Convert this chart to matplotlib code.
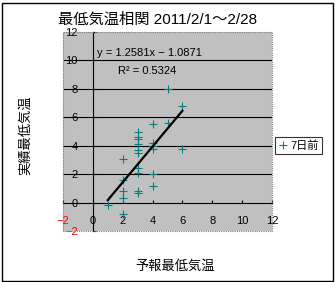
import matplotlib
matplotlib.use("Agg")
import matplotlib.pyplot as plt
from matplotlib.patches import Rectangle

plt.rcParams['font.family'] = ['Liberation Sans', 'Noto Sans CJK JP', 'DejaVu Sans']

# forecast min temp (x) vs actual min temp (y), 7 days ahead
forecast = [1,
            2, 2, 2, 2, 2,
            3, 3, 3, 3, 3, 3, 3, 3, 3, 3,
            4, 4, 4, 4, 4, 4,
            5, 5,
            6, 6]
actual = [-0.2,
          3.1, 1.6, 0.8, 0.3, -0.8,
          5.0, 4.6, 4.5, 4.1, 3.7, 3.5, 2.4, 2.1, 0.8, 0.7,
          5.5, 4.2, 4.0, 3.8, 2.0, 1.2,
          8.0, 5.6,
          6.8, 3.8]

slope = 1.2581
intercept = -1.0871
r2 = 0.5324

ticks = [-2, 0, 2, 4, 6, 8, 10, 12]
grid_y = [2, 4, 6, 8, 10]

title = "最低気温相関 2011/2/1～2/28"
xlabel = "予報最低気温"
ylabel = "実績最低気温"
series_name = "7日前"

W, H = 335, 282
fig = plt.figure(figsize=(W / 100, H / 100), dpi=100)
ax = fig.add_axes([63 / W, 1 - 231 / H, 209 / W, 199 / H])
ax.set_facecolor('#C0C0C0')
ax.set_xlim(-2, 12)
ax.set_ylim(-2, 12)

# axes cross at zero
ax.spines['left'].set_position(('data', 0))
ax.spines['bottom'].set_position(('data', 0))
ax.spines['top'].set_visible(False)
ax.spines['right'].set_visible(False)
for s in ('left', 'bottom'):
    ax.spines[s].set_color('black')
    ax.spines[s].set_linewidth(0.8)
    ax.spines[s].set_zorder(1)

ax.hlines(grid_y, -2, 12, colors='black', linewidth=0.8, zorder=1)

# dotted grey plot-area frame
ax.add_patch(Rectangle((0, 0), 1, 1, transform=ax.transAxes, fill=False,
                       edgecolor='#808080', linestyle=(0, (1, 1)),
                       linewidth=0.8, clip_on=False, zorder=3))

def lab(t):
    return str(t).replace('-', '\u2212')

ax.set_xticks(ticks, labels=[lab(t) for t in ticks])
ax.set_yticks(ticks, labels=[lab(t) for t in ticks])
ax.tick_params(direction='in', length=2.2, width=0.8, colors='black',
               labelsize=8)
ax.tick_params(axis='x', pad=10)
ax.tick_params(axis='y', pad=10.8)
for lbl, t in zip(ax.get_xticklabels(), ticks):
    if t < 0:
        lbl.set_color('red')
for lbl, t in zip(ax.get_yticklabels(), ticks):
    if t < 0:
        lbl.set_color('red')

ax.plot(forecast, actual, linestyle='none', marker='+', markersize=6,
        markeredgewidth=0.8, color='#008080', label=series_name,
        zorder=4, clip_on=False)

xs = [min(forecast), max(forecast)]
ax.plot(xs, [slope * x + intercept for x in xs], color='black',
        linewidth=1.6, zorder=4)

ax.text(0.163, 0.894, f"y = {slope}x \u2212 {abs(intercept)}",
        transform=ax.transAxes, fontsize=8, ha='left', va='center')
ax.text(0.402, 0.804, f"R² = {r2}", transform=ax.transAxes,
        fontsize=8, ha='center', va='center')

fig.text(157.5 / W, 1 - 20 / H, title, fontsize=11, ha='center', va='center')
fig.text(175 / W, 1 - 267 / H, xlabel, fontsize=9.5, ha='center', va='center')
fig.text(25 / W, 1 - 135 / H, ylabel, fontsize=9.5, ha='center', va='center',
         rotation=90)

leg = fig.legend(loc='upper left', bbox_to_anchor=(275 / W, 1 - 137 / H),
                 fontsize=8, frameon=True, fancybox=False, handlelength=0.8,
                 handletextpad=0.3, borderpad=0.3, borderaxespad=0)
leg.get_frame().set_edgecolor('black')
leg.get_frame().set_linewidth(0.8)

# outer chart border
fig.add_artist(Rectangle((1.5 / W, 1.5 / H), 331 / W, 278 / H,
                         transform=fig.transFigure, fill=False,
                         edgecolor='black', linewidth=1.0))

fig.savefig('out.png', dpi=100)
